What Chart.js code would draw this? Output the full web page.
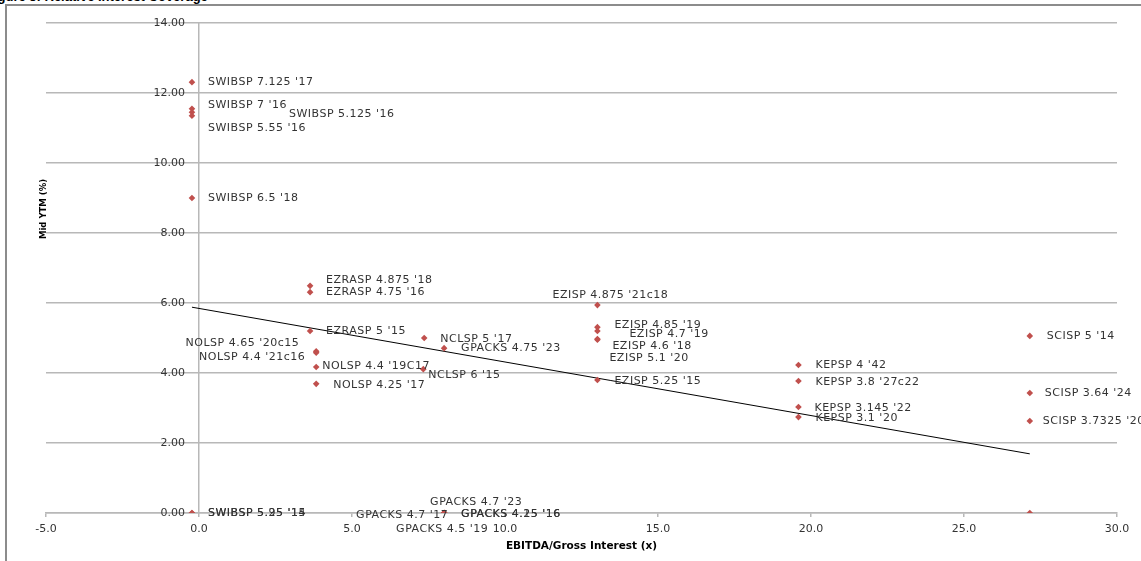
<!DOCTYPE html>
<html>
<head>
<meta charset="utf-8">
<script src="https://cdn.jsdelivr.net/npm/chart.js@4.4.1/dist/chart.umd.min.js"></script>
<style>
  html, body { margin: 0; padding: 0; background: #fff; overflow: hidden; }
  #wrap { position: relative; width: 1141px; height: 561px; }
  #title { position: absolute; left: -14px; top: -11px; font: bold 13px "Liberation Sans", Arial, sans-serif; color: #000; white-space: nowrap; }
  #frame { position: absolute; left: 5px; top: 4px; width: 1200px; height: 600px; border: 2px solid #8c8c8c; }
  canvas { position: absolute; left: 0; top: 0; }
</style>
</head>
<body>
<div id="wrap">
  <div id="title">Figure 5: Relative Interest Coverage</div>
  <div id="frame"></div>
  <canvas id="chart" width="1141" height="561"></canvas>
</div>
<script>
/* ================= DATA ================= */
const bondNames = [
  "SWIBSP 7.125 '17", "SWIBSP 7 '16", "SWIBSP 5.125 '16", "SWIBSP 5.55 '16", "SWIBSP 6.5 '18",
  "SWIBSP 5.95 '14", "SWIBSP 5.25 '15",
  "EZRASP 4.875 '18", "EZRASP 4.75 '16", "EZRASP 5 '15",
  "NOLSP 4.65 '20c15", "NOLSP 4.4 '21c16", "NOLSP 4.4 '19C17", "NOLSP 4.25 '17",
  "NCLSP 5 '17", "GPACKS 4.75 '23", "NCLSP 6 '15",
  "EZISP 4.875 '21c18", "EZISP 4.85 '19", "EZISP 4.7 '19", "EZISP 4.6 '18", "EZISP 5.1 '20", "EZISP 5.25 '15",
  "KEPSP 4 '42", "KEPSP 3.8 '27c22", "KEPSP 3.145 '22", "KEPSP 3.1 '20",
  "SCISP 5 '14", "SCISP 3.64 '24", "SCISP 3.7325 '20", "",
  "GPACKS 4.7 '23", "GPACKS 4.7 '17", "GPACKS 4.25 '16", "GPACKS 4.15 '16", "GPACKS 4.5 '19"
];
const coverage = [
  -0.23, -0.23, -0.23, -0.23, -0.23,
  -0.23, -0.23,
  3.63, 3.63, 3.63,
  3.83, 3.83, 3.83, 3.83,
  7.36, 8.01, 7.33,
  13.02, 13.02, 13.02, 13.02, 13.02, 13.02,
  19.59, 19.59, 19.59, 19.59,
  27.15, 27.15, 27.15, 27.15,
  8.01, 8.01, 8.01, 8.01, 8.01
];
const midYtm = [
  12.31, 11.55, 11.45, 11.35, 9.0,
  0, 0,
  6.49, 6.31, 5.2,
  4.62, 4.58, 4.17, 3.69,
  5.0, 4.71, 4.11,
  5.94, 5.31, 5.2, 4.97, 4.95, 3.8,
  4.23, 3.77, 3.03, 2.74,
  5.06, 3.43, 2.63, 0,
  0, 0, 0, 0, 0
];
const trendX = [-0.23, 27.15];
const trendY = [5.88, 1.69];

/* label placement (pixels from the point) */
const labelDx = [
  16, 16, 97, 16, 16,
  16, 16,
  16, 16, 16,
  -17, -11, 6, 17,
  16, 17, 5,
  13, 17, 32, 15, 12, 17,
  17, 17, 16, 17,
  17, 15, 13, 0,
  -14, -88, 17, 17, -48
];
const labelDy = [
  0, -4, 2, 12, 0,
  0, 0,
  -6, 0, 0,
  -8, 4, -1, 1,
  1, 0, 6,
  -10, -2, 3, 7, 18, 1,
  0, 1, 1, 1,
  0, 0, 0, 0,
  -11, 2, 1, 1, 16
];
const alignList = bondNames.map((n, i) =>
  (i === 10 || i === 11) ? "right" : (i === 17 ? "center" : "left"));

const FONT = '"DejaVu Sans", Verdana, sans-serif';
const GRID = "#b8b8b8";

/* ================= PLUGINS ================= */
const pointLabels = {
  id: "pointLabels",
  afterDatasetsDraw(chart) {
    const meta = chart.getDatasetMeta(0);
    const ctx = chart.ctx;
    ctx.save();
    ctx.font = "11px " + FONT;
    ctx.letterSpacing = "0.5px";
    ctx.fillStyle = "#333";
    ctx.textBaseline = "middle";
    meta.data.forEach((pt, i) => {
      if (!bondNames[i]) return;
      ctx.textAlign = alignList[i];
      ctx.fillText(bondNames[i], pt.x + labelDx[i], pt.y + labelDy[i]);
    });
    ctx.restore();
  }
};

// y tick labels sit just left of the axis, which crosses at x = 0
const yTickLabels = {
  id: "yTickLabels",
  afterDraw(chart) {
    const { x, y } = chart.scales;
    const ctx = chart.ctx;
    const axisX = x.getPixelForValue(0);
    ctx.save();
    ctx.font = "11px " + FONT;
    ctx.fillStyle = "#333";
    ctx.textAlign = "right";
    ctx.textBaseline = "middle";
    y.ticks.forEach(t => {
      ctx.fillText(t.value.toFixed(2), axisX - 14, y.getPixelForValue(t.value));
    });
    ctx.restore();

    ctx.save();
    ctx.translate(44, 209);
    ctx.rotate(-Math.PI / 2);
    ctx.font = "bold 8.5px " + FONT;
    ctx.fillStyle = "#000";
    ctx.textAlign = "center";
    ctx.textBaseline = "middle";
    ctx.fillText("Mid YTM (%)", 0, 0);
    ctx.restore();
  }
};

/* ================= CHART ================= */
new Chart(document.getElementById("chart"), {
  type: "scatter",
  data: {
    datasets: [
      {
        label: "Bonds",
        data: coverage.map((x, i) => ({ x: x, y: midYtm[i] })),
        pointStyle: "rectRot",
        pointRadius: 3.3,
        backgroundColor: "#c0504d",
        borderColor: "#c0504d",
        borderWidth: 0
      },
      {
        label: "Trend",
        type: "line",
        data: trendX.map((x, i) => ({ x: x, y: trendY[i] })),
        borderColor: "#000",
        borderWidth: 1,
        pointRadius: 0,
        fill: false
      }
    ]
  },
  options: {
    responsive: false,
    animation: false,
    layout: { padding: { left: 46, right: 24, top: 23, bottom: 0 } },
    plugins: {
      legend: { display: false },
      tooltip: { enabled: false }
    },
    scales: {
      x: {
        type: "linear",
        min: -5,
        max: 30,
        afterFit: s => { s.height = 48; },
        ticks: {
          stepSize: 5,
          padding: 6,
          color: "#333",
          font: { family: FONT, size: 11 },
          callback: v => v.toFixed(1)
        },
        grid: { drawOnChartArea: false, drawTicks: true, tickLength: 4, color: GRID, lineWidth: 1.5 },
        border: { display: true, color: GRID, width: 1.5 },
        title: {
          display: true,
          text: "EBITDA/Gross Interest (x)",
          color: "#000",
          font: { family: FONT, size: 10.5, weight: "bold" },
          padding: { top: 2, bottom: 8 }
        }
      },
      y: {
        type: "linear",
        position: { x: 0 },
        min: 0,
        max: 14,
        afterFit: s => { s.width = 0; },
        ticks: { stepSize: 2, display: false },
        grid: { drawTicks: false, tickLength: 0, color: GRID, lineWidth: 1.5 },
        border: { display: true, color: GRID, width: 1.5 }
      }
    }
  },
  plugins: [pointLabels, yTickLabels]
});
</script>
</body>
</html>
